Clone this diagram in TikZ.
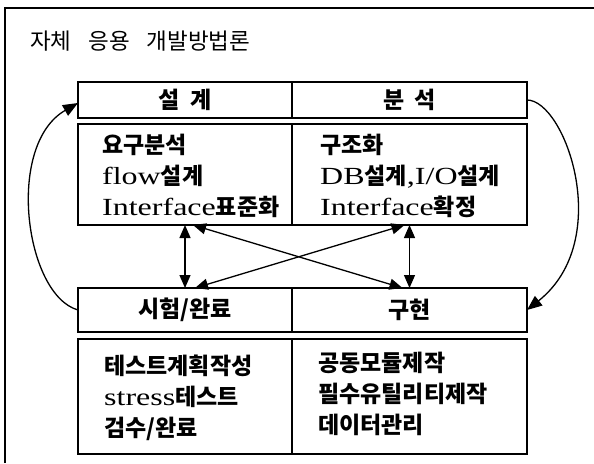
\documentclass[tikz,border=0pt]{standalone}
\usepackage{fontspec}
\setmainfont{Liberation Serif}[FakeStretch=1.3, Scale=1.07]
\newfontfamily\kr{Noto Sans CJK KR}
\newcommand\K[1]{{\kr\bfseries #1}}
\usetikzlibrary{arrows.meta}
\begin{document}
\begin{tikzpicture}[x=1pt,y=-1pt,
  cell/.style={draw, line width=1.4pt, inner sep=0pt, outer sep=0pt,
    font=\fontsize{23}{27}\selectfont},
  txt/.style={align=left, inner sep=0pt, anchor=west,
    font=\fontsize{23}{31}\selectfont},
  conn/.style={line width=1.3pt},
  tip/.tip={Triangle[length=13pt,width=11pt]},
  bigtip/.tip={Triangle[length=15pt,width=12pt]}]
\useasboundingbox (0,0) rectangle (594,463);
\draw[line width=2pt] (5,463) -- (5,8) -- (594,8);
\node[anchor=west, inner sep=0pt, font=\fontsize{22.5}{26}\selectfont] (title) at (30,41)
  {\kr 자체\hspace{0.75em}응용\hspace{0.75em}개발방법론};
% header row top
\node[cell, minimum width=214pt, minimum height=36pt] (h1) at (185,100) {\K{설\hspace{0.45em}계}};
\node[cell, minimum width=235pt, minimum height=36pt] (h2) at (409.5,100) {\K{분\hspace{0.45em}석}};
\node[cell, minimum width=214pt, minimum height=101pt] (c1) at (185,174.5) {};
\node[cell, minimum width=235pt, minimum height=101pt] (c2) at (409.5,174.5) {};
\node[txt] (t1) at (102,176) {\K{요구분석}\\flow\K{설계}\\Interface\K{표준화}};
\node[txt] (t2) at (320,176) {\K{구조화}\\DB\K{설계},I/O\K{설계}\\Interface\K{확정}};
% bottom
\node[cell, minimum width=214pt, minimum height=44pt] (b1) at (185,310) {\K{시험/완료}};
\node[cell, minimum width=235pt, minimum height=44pt] (b2) at (409.5,310) {\K{구현}};
\node[cell, minimum width=214pt, minimum height=115pt] (d1) at (185,396.5) {};
\node[cell, minimum width=235pt, minimum height=115pt] (d2) at (409.5,396.5) {};
\node[txt] (t3) at (104,398) {\K{테스트계획작성}\\stress\K{테스트}\\\K{검수/완료}};
\node[txt] (t4) at (318,394) {\K{공동모듈제작}\\\K{필수유틸리티제작}\\\K{데이터관리}};
% arrows
\draw[conn, tip-tip] (c1.south) -- (b1.north);
\draw[conn, tip-tip] (c2.south) -- (b2.north);
\draw[conn, tip-tip] ([xshift=8pt]c1.south) -- ([xshift=-7pt]b2.north);
\draw[conn, tip-tip] ([xshift=10pt]b1.north) -- ([xshift=-5pt]c2.south);
\draw[conn, -bigtip] (b1.west) .. controls (25,295) and (5,145) .. ([yshift=-3pt]h1.west);
\draw[conn, -bigtip] (h2.east) .. controls (565,100) and (615,240) .. (b2.east);
\end{tikzpicture}
\end{document}
